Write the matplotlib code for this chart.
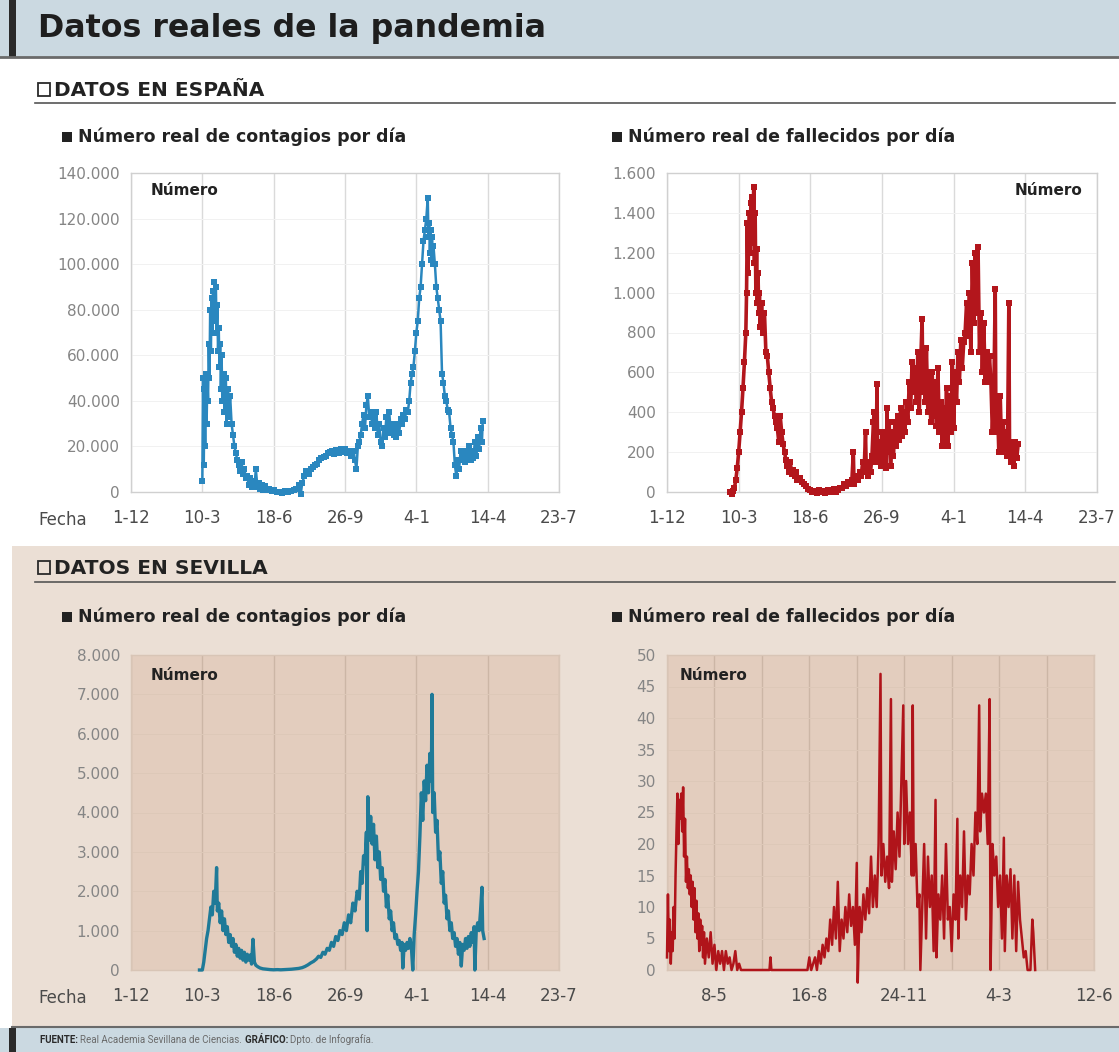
import numpy as np
import matplotlib
matplotlib.use("Agg")
import matplotlib.pyplot as plt
from matplotlib.patches import Rectangle
from matplotlib.lines import Line2D

plt.rcParams['font.family'] = ['DejaVu Sans']

# Spain: days counted from 1-12-2019
ES_BASE = '2019-12-01'
ES_TICK_DATES = ['2019-12-01', '2020-03-10', '2020-06-18', '2020-09-26',
                 '2021-01-04', '2021-04-14', '2021-07-23']
ES_TICK_LABELS = ['1-12', '10-3', '18-6', '26-9', '4-1', '14-4', '23-7']

ES_CASES_DAY = [100, 101, 102, 103, 104, 105, 106, 107, 108, 109, 110, 111, 112, 113, 114, 115,
                116, 117, 118, 119, 120, 121, 122, 123, 124, 125, 126, 127, 128, 130, 131, 133,
                134, 136, 137, 139, 141, 143, 145, 147, 149, 151, 153, 155, 157, 159, 161, 163,
                165, 167, 169, 171, 173, 175, 177, 179, 181, 183, 185, 188, 191, 194, 197, 200,
                204, 208, 212, 216, 220, 224, 228, 232, 236, 238, 240, 243, 246, 249, 252, 255,
                258, 261, 264, 267, 270, 273, 276, 279, 282, 285, 288, 291, 294, 297, 300, 303,
                306, 309, 312, 314, 316, 318, 320, 322, 324, 326, 328, 330, 332, 334, 336, 338,
                340, 342, 344, 346, 348, 350, 352, 354, 356, 358, 360, 362, 364, 366, 368, 370,
                372, 374, 376, 378, 380, 382, 384, 386, 388, 390, 392, 394, 396, 398, 400, 402,
                404, 406, 408, 410, 412, 414, 416, 417, 418, 419, 420, 421, 422, 423, 424, 426,
                428, 430, 432, 434, 436, 438, 440, 442, 444, 446, 448, 450, 452, 454, 456, 458,
                460, 462, 464, 466, 468, 470, 472, 474, 476, 478, 480, 482, 484, 486, 488, 490,
                492, 493]
ES_CASES = [5000, 50000, 12000, 45000, 20000, 52000, 30000, 50000, 40000, 65000, 50000, 80000,
            62000, 85000, 70000, 88000, 75000, 92000, 80000, 90000, 70000, 82000, 62000, 72000,
            55000, 65000, 45000, 60000, 40000, 52000, 35000, 50000, 30000, 45000, 33000, 42000,
            30000, 25000, 20000, 17000, 14000, 12000, 9000, 13000, 8000, 10000, 6000, 7000,
            3000, 6000, 2000, 5000, 2000, 10000, 3000, 4000, 1500, 3000, 1000, 2500, 800, 1500,
            500, 1000, 0, 200, -500, 300, 0, 500, 800, 1500, 3000, -1000, 4000, 7000, 9000, 8000,
            10000, 11000, 12000, 12500, 14000, 15000, 15500, 16000, 17000, 17500, 18000, 16500,
            18500, 17000, 19000, 17500, 19000, 17000, 18000, 16000, 18000, 14000, 10000, 20000,
            22000, 25000, 30000, 34000, 28000, 38000, 42000, 33000, 35000, 30000, 34000, 28000,
            35000, 25000, 30000, 22000, 20000, 28000, 24000, 33000, 26000, 35000, 27000, 30000,
            25000, 27000, 24000, 30000, 26000, 32000, 30000, 34000, 32000, 36000, 35000, 40000,
            48000, 52000, 55000, 62000, 70000, 75000, 85000, 90000, 100000, 110000, 115000,
            120000, 129000, 112000, 118000, 105000, 115000, 102000, 112000, 100000, 108000,
            100000, 90000, 85000, 80000, 75000, 52000, 48000, 42000, 40000, 36000, 35000, 28000,
            25000, 22000, 12000, 7000, 14000, 10000, 18000, 14000, 17000, 13000, 18000, 15000,
            20000, 14000, 18000, 15000, 22000, 16000, 24000, 19000, 28000, 22000, 31000]

ES_DEATHS_DAY = [88, 90, 92, 94, 96, 98, 100, 102, 104, 106, 108, 110, 111, 112, 113, 114, 115,
                 116, 117, 118, 119, 120, 121, 122, 123, 124, 125, 126, 127, 128, 129, 130, 132,
                 134, 136, 138, 140, 142, 144, 146, 148, 150, 152, 154, 156, 158, 160, 162, 164,
                 166, 168, 170, 172, 174, 176, 178, 180, 182, 185, 188, 191, 194, 197, 200, 203,
                 206, 209, 212, 215, 218, 221, 224, 227, 230, 233, 236, 239, 242, 244, 247, 250,
                 253, 256, 258, 260, 261, 263, 265, 267, 269, 271, 273, 275, 277, 278, 280, 282,
                 284, 286, 288, 289, 290, 291, 292, 293, 294, 296, 298, 300, 302, 304, 306, 307,
                 308, 310, 312, 314, 316, 318, 320, 322, 324, 326, 328, 330, 332, 334, 336, 338,
                 340, 342, 344, 346, 348, 350, 352, 354, 356, 357, 358, 360, 362, 364, 366, 368,
                 370, 372, 374, 376, 378, 380, 382, 384, 386, 388, 390, 392, 394, 396, 398, 400,
                 402, 404, 406, 408, 410, 412, 414, 416, 418, 420, 422, 424, 426, 428, 430, 432,
                 434, 436, 438, 440, 442, 444, 446, 448, 450, 452, 454, 456, 458, 459, 461, 463,
                 465, 467, 469, 471, 473, 475, 477, 478, 480, 482, 484, 486, 488, 490]
ES_DEATHS = [0, -10, 5, 20, 60, 120, 200, 300, 400, 520, 650, 800, 1000, 1350, 1100, 1250, 1400,
             1200, 1450, 1300, 1480, 1250, 1530, 1150, 1400, 1000, 1220, 950, 1100, 900, 1000, 830,
             950, 800, 900, 700, 680, 600, 520, 450, 420, 380, 350, 320, 250, 380, 300, 240, 200,
             160, 130, 100, 150, 90, 110, 80, 100, 60, 70, 50, 40, 30, 15, 10, 0,
             5, -5, 10, 0, 5, -5, 10, 2, 5, 15, 0, 10, 20, 20, 40, 30,
             50, 40, 60, 200, 40, 60, 80, 60, 100, 80, 150, 100, 300, 120, 80, 150,
             100, 180, 350, 400, 150, 300, 200, 540, 150, 250, 130, 300, 150, 280, 120, 420,
             200, 350, 130, 300, 180, 350, 230, 380, 260, 420, 280, 400, 300, 450, 350, 550,
             420, 650, 500, 620, 450, 700, 400, 650, 870, 500, 700, 450, 720, 400, 600, 350,
             600, 380, 550, 330, 620, 300, 450, 230, 420, 250, 520, 230, 480, 300, 650, 320,
             600, 450, 700, 550, 760, 620, 750, 800, 950, 780, 1000, 700, 1150, 850, 1200, 900,
             1230, 700, 900, 600, 850, 550, 700, 550, 680, 550, 300, 480, 1020, 300, 450, 200,
             480, 200, 350, 220, 300, 180, 950, 200, 150, 250, 130, 250, 170, 240]

SV_CASES_DAY = [96, 100, 102, 104, 106, 108, 110, 112, 114, 116, 118, 120, 121, 123, 125, 127,
                129, 131, 133, 135, 137, 139, 141, 143, 145, 147, 149, 151, 153, 155, 157, 159,
                161, 163, 165, 167, 169, 171, 173, 175, 178, 181, 185, 190, 195, 200, 205, 210,
                215, 220, 225, 230, 235, 240, 244, 248, 252, 256, 260, 263, 266, 269, 272, 275,
                278, 281, 284, 287, 290, 293, 296, 299, 302, 305, 308, 311, 314, 317, 320, 322,
                324, 326, 328, 330, 331, 332, 334, 336, 338, 340, 342, 344, 346, 348, 350, 352,
                354, 356, 358, 360, 362, 364, 366, 368, 370, 372, 374, 376, 378, 380, 381, 383,
                385, 387, 389, 391, 393, 395, 397, 399, 401, 403, 405, 407, 409, 411, 413, 415,
                417, 419, 421, 422, 423, 425, 427, 429, 431, 433, 435, 437, 439, 441, 443, 445,
                447, 449, 451, 453, 455, 457, 459, 461, 463, 465, 467, 469, 471, 473, 475, 477,
                479, 481, 482, 484, 486, 488, 490, 492, 493, 495]
SV_CASES = [0, 0, 200, 500, 800, 1000, 1300, 1600, 1400, 2000, 1700, 2600, 1500, 1700, 1200, 1500,
            1000, 1300, 900, 1100, 700, 900, 600, 800, 450, 650, 350, 550, 300, 500, 250, 450,
            200, 400, 250, 380, 150, 780, 200, 120, 80, 50, 30, 20, 10, 5, 10, 5,
            10, 15, 20, 30, 40, 60, 90, 130, 180, 220, 280, 350, 320, 450, 400, 550,
            500, 700, 600, 850, 750, 1000, 900, 1200, 1000, 1400, 1200, 1700, 1500, 2000, 1800, 2500,
            2200, 2900, 2700, 3500, 1000, 4400, 3300, 3900, 3200, 3700, 2800, 3400, 2600, 3000, 2300, 2600,
            2000, 2300, 1600, 1900, 1300, 1500, 1000, 1200, 800, 900, 650, 750, 500, 700, 50, 650,
            500, 700, 550, 800, 600, 0, 900, 1400, 2000, 2500, 3400, 4500, 3800, 4800, 4300, 5200,
            4500, 5500, 4800, 7000, 4000, 4500, 3500, 3800, 2800, 3000, 2200, 2500, 1700, 1900, 1300, 1500,
            1000, 1200, 800, 950, 600, 800, 400, 700, 100, 650, 500, 800, 550, 850, 600, 950,
            700, 1100, 0, 1000, 1200, 1000, 1500, 2100, 1000, 800]

# Sevilla deaths: days counted from 19-3-2020
SV_BASE = '2020-03-19'
SV_GRID_DATES = ['2020-03-19', '2020-05-08', '2020-06-27', '2020-08-16', '2020-10-05',
                 '2020-11-24', '2021-01-13', '2021-03-04', '2021-04-23', '2021-06-12']
SV_TICK_DATES = ['2020-05-08', '2020-08-16', '2020-11-24', '2021-03-04', '2021-06-12']
SV_TICK_LABELS = ['8-5', '16-8', '24-11', '4-3', '12-6']

SV_DEATHS_DAY = [0, 1, 2, 3, 4, 5, 6, 7, 8, 9, 10, 11, 12, 13, 14, 15, 16, 17, 18, 19, 20, 21, 22,
                 23, 24, 25, 26, 27, 28, 29, 30, 31, 32, 33, 34, 35, 36, 37, 38, 39, 40, 42, 44,
                 46, 48, 50, 52, 54, 56, 58, 60, 62, 64, 66, 68, 70, 72, 74, 76, 78, 80, 85, 90,
                 95, 100, 105, 108, 109, 110, 115, 120, 125, 130, 135, 140, 145, 148, 150, 152,
                 154, 156, 158, 160, 162, 164, 166, 168, 170, 172, 174, 176, 178, 180, 182, 184,
                 186, 188, 190, 192, 194, 196, 198, 200, 201, 203, 205, 207, 209, 211, 213, 215,
                 217, 219, 221, 223, 225, 226, 228, 230, 232, 234, 236, 237, 239, 241, 243, 245,
                 247, 249, 250, 252, 254, 256, 258, 259, 260, 262, 264, 266, 267, 269, 271, 273,
                 275, 277, 279, 281, 283, 284, 286, 288, 290, 292, 294, 296, 298, 300, 302, 304,
                 306, 307, 309, 311, 313, 315, 317, 319, 321, 323, 325, 327, 329, 330, 332, 334,
                 336, 338, 340, 341, 343, 345, 347, 349, 351, 353, 355, 356, 358, 360, 362, 364,
                 366, 368, 370, 372, 374, 376, 378, 380, 383, 385, 386, 388]
SV_DEATHS = [2, 12, 3, 8, 1, 6, 3, 10, 5, 15, 22, 28, 20, 27, 24, 28, 22, 29, 18, 24, 14, 18, 13,
             16, 12, 15, 10, 14, 8, 13, 6, 11, 5, 9, 3, 8, 4, 7, 2, 6, 1, 5, 2,
             6, 1, 4, 0, 3, 1, 3, 0, 3, 1, 2, 0, 1, 3, 0, 1, 0, 0, 0, 0,
             0, 0, 0, 0, 2, 0, 0, 0, 0, 0, 0, 0, 0, 0, 2, 0,
             1, 2, 0, 3, 1, 4, 2, 5, 3, 8, 4, 10, 5, 14, 3, 8,
             5, 10, 6, 12, 7, 10, 4, 17, -2, 10, 6, 12, 8, 13, 9, 18,
             10, 15, 10, 20, 47, 15, 20, 14, 18, 13, 43, 14, 22, 16, 25, 18,
             30, 42, 20, 30, 20, 25, 15, 42, 15, 20, 10, 12, 0, 10, 20, 5,
             18, 10, 15, 3, 27, 2, 12, 8, 15, 5, 20, 8, 10, 3, 12, 8,
             24, 5, 15, 10, 22, 8, 15, 12, 20, 15, 25, 20, 42, 22, 28, 25,
             28, 20, 43, 0, 20, 15, 18, 10, 15, 5, 21, 3, 15, 10, 16, 5,
             15, 3, 14, 8, 5, 2, 3, 0, 0, 8, 6, 0]

ES_CASES_YTICKS = list(range(0, 140001, 20000))
ES_DEATHS_YTICKS = list(range(0, 1601, 200))
SV_CASES_YTICKS = list(range(0, 8001, 1000))
SV_DEATHS_YTICKS = list(range(0, 51, 5))

# ---- layout helpers (pixel coordinates of the 1119x1052 canvas) ----
W, H = 1119, 1052


def fx(x):
    return x / W


def fy(y):
    return 1 - y / H


def days_from(base, dates):
    return [(np.datetime64(d) - np.datetime64(base)).astype(int) for d in dates]


def fmt_thousands(v):
    return f"{v:,}".replace(',', '.')


fig = plt.figure(figsize=(W / 100, H / 100), dpi=100)
fig.patch.set_facecolor('white')


def box(x0, y0, x1, y1, z=-5, **kw):
    fig.add_artist(Rectangle((fx(x0), fy(y1)), (x1 - x0) / W, (y1 - y0) / H,
                             transform=fig.transFigure, zorder=z, **kw))


def hline(x0, x1, y, **kw):
    fig.add_artist(Line2D([fx(x0), fx(x1)], [fy(y), fy(y)], transform=fig.transFigure, **kw))


# title band
box(0, 0, W, 57, facecolor='#cbd9e1', edgecolor='none')
box(9, 0, 16, 57, facecolor='#2a2a2a', edgecolor='none')
hline(0, W, 57, color='#6a6a6a', lw=2)
fig.text(fx(38), fy(29), 'Datos reales de la pandemia', fontsize=22.8, fontweight='bold',
         color='#1e1e1e', va='center', ha='left')

# beige Sevilla block
box(12, 546, W, 1027, facecolor='#ebdfd5', edgecolor='none')

# footer band
box(0, 1028, W, H, facecolor='#cbd9e1', edgecolor='none')
box(9, 1028, 16, H, facecolor='#2a2a2a', edgecolor='none')
hline(12, W, 1027, color='#6a6a6a', lw=1.5)

renderer = fig.canvas.get_renderer()
x_cur = 40
for txt, weight, col in [('FUENTE: ', 'bold', '#2a2a2a'),
                         ('Real Academia Sevillana de Ciencias. ', 'normal', '#6a6a6a'),
                         ('GRÁFICO: ', 'bold', '#2a2a2a'),
                         ('Dpto. de Infografía.', 'normal', '#6a6a6a')]:
    t = fig.text(fx(x_cur), fy(1040), txt, fontsize=7, fontweight=weight, color=col,
                 family='Roboto', va='center', ha='left')
    x_cur += t.get_window_extent(renderer).width


def section(y, label, line_y):
    box(38, y - 7, 50, y + 6, z=3, facecolor='none', edgecolor='#2a2a2a', lw=1.3)
    fig.text(fx(54), fy(y), label, fontsize=14.5, fontweight='bold', color='#222222',
             va='center', ha='left')
    hline(35, 1115, line_y, color='#555555', lw=1.2)


def subtitle(x, y, label):
    box(x, y - 5, x + 10, y + 5, z=3, facecolor='#222222', edgecolor='none')
    fig.text(fx(x + 16), fy(y), label, fontsize=12.5, fontweight='bold', color='#222222',
             va='center', ha='left')


section(90, 'DATOS EN ESPAÑA', 103)
section(568, 'DATOS EN SEVILLA', 582)
subtitle(62, 137, 'Número real de contagios por día')
subtitle(612, 137, 'Número real de fallecidos por día')
subtitle(62, 617, 'Número real de contagios por día')
subtitle(612, 617, 'Número real de fallecidos por día')


def panel(rect, days, vals, xmax, grid_days, tick_days, tick_labels, yticks, color,
          bg, vgrid, hgrid, frame, note_x, note_ha, note_y, style):
    l, t, r, b = rect
    ax = fig.add_axes([fx(l), fy(b), (r - l) / W, (b - t) / H])
    ax.set_facecolor(bg)
    ax.set_xlim(0, xmax)
    ax.set_ylim(yticks[0], yticks[-1])
    for g in grid_days:
        ax.axvline(g, color=vgrid, lw=1, zorder=1)
    for yv in yticks[1:-1]:
        ax.axhline(yv, color=hgrid, lw=0.7, zorder=1)
    ax.plot(days, vals, color=color, zorder=3, clip_on=False, **style)
    ax.set_xticks(tick_days, tick_labels)
    ax.set_yticks(yticks, [fmt_thousands(v) for v in yticks])
    ax.tick_params(axis='x', length=0, pad=12, labelsize=12, labelcolor='#4a4a4a')
    ax.tick_params(axis='y', length=0, pad=8, labelsize=11, labelcolor='#858585')
    for s in ax.spines.values():
        s.set_color(frame)
        s.set_linewidth(1)
    ax.text(note_x, note_y, 'Número', transform=ax.transAxes, ha=note_ha, va='center',
            fontsize=11, fontweight='bold', color='#222222')
    return ax


es_ticks = days_from(ES_BASE, ES_TICK_DATES)
sv_grid = days_from(SV_BASE, SV_GRID_DATES)
sv_ticks = days_from(SV_BASE, SV_TICK_DATES)

panel((131, 173, 559, 492), ES_CASES_DAY, ES_CASES, es_ticks[-1], es_ticks, es_ticks,
      ES_TICK_LABELS, ES_CASES_YTICKS, '#2a87bf', 'white', '#dadada', '#f1f1f1', '#d0d0d0',
      0.045, 'left', 0.945, dict(lw=1.8, marker='s', ms=4, mew=0))
panel((667, 173, 1097, 492), ES_DEATHS_DAY, ES_DEATHS, es_ticks[-1], es_ticks, es_ticks,
      ES_TICK_LABELS, ES_DEATHS_YTICKS, '#b3161c', 'white', '#dadada', '#f1f1f1', '#d0d0d0',
      0.965, 'right', 0.945, dict(lw=2.6, marker='s', ms=4.2, mew=0))
panel((131, 655, 559, 970), SV_CASES_DAY, SV_CASES, es_ticks[-1], es_ticks, es_ticks,
      ES_TICK_LABELS, SV_CASES_YTICKS, '#1f7a98', '#e3cdbe', '#ccb6a6', '#ddc8b8', '#d8c5b6',
      0.045, 'left', 0.935, dict(lw=2.4))
panel((667, 655, 1094, 970), SV_DEATHS_DAY, SV_DEATHS, sv_grid[-1], sv_grid, sv_ticks,
      SV_TICK_LABELS, SV_DEATHS_YTICKS, '#b0141a', '#e3cdbe', '#ccb6a6', '#ddc8b8', '#d8c5b6',
      0.03, 'left', 0.935, dict(lw=1.8))

fig.text(fx(38), fy(520), 'Fecha', fontsize=12, color='#4a4a4a', va='center', ha='left')
fig.text(fx(38), fy(998), 'Fecha', fontsize=12, color='#4a4a4a', va='center', ha='left')

fig.savefig('out.png', dpi=100, facecolor=fig.get_facecolor())
